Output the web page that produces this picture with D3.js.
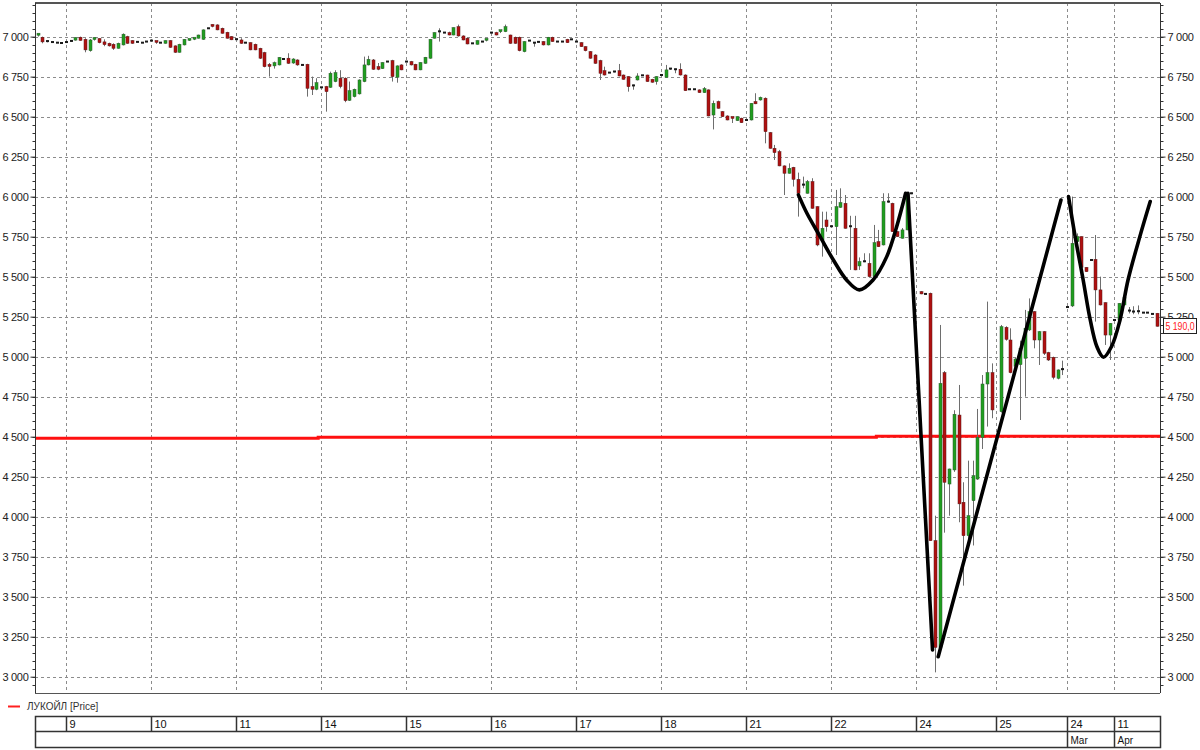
<!DOCTYPE html>
<html><head><meta charset="utf-8">
<script src="https://cdn.jsdelivr.net/npm/d3@7"></script>
<style>
body{margin:0;background:#fff}
text{font-family:"Liberation Sans Narrow","Liberation Sans",Arial,sans-serif}
</style>
</head><body>
<svg id="c" width="1200" height="750"></svg>
<script>
// ---- DATA (one candle per slot, null = empty slot) ----
const open = [
7003,6996,6972,6966,6962,6960,6964,6969,6978,6996,
6983,6912,6979,6988,6967,6958,6952,6927,6948,7000,
6975,6967,6962,6969,6975,6970,6962,6958,6975,6942,
6902,6948,6975,6980,6990,6983,7052,7070,7073,7052,
7027,7000,6983,6979,6962,6962,6952,6927,6900,6820,
6817,6823,6860,6865,6835,6854,6823,6827,6688,6671,
6683,6688,6683,6719,6740,6740,6602,6625,6642,6719,
6823,6854,6813,6800,6844,6850,6746,6823,6844,6844,
6827,6792,6833,6865,6990,7033,7025,7025,7010,7062,
7004,6990,6958,6952,6969,6975,7025,7025,7025,7031,
7010,6996,6996,6906,6975,6962,6967,6969,6948,6996,
6969,6969,6983,6983,6969,6962,6937,6906,6885,6850,
6787,6775,6782,6787,6760,6750,6695,6729,6758,6760,
6733,6719,6760,6746,6800,6796,6796,6760,6671,6671,
6667,6650,6667,6510,6594,6531,6504,6495,6475,6490,
6479,6479,6594,6604,6615,6400,6302,6281,6192,6146,
6183,6108,6075,6021,6094,5937,5729,5854,5815,5812,
5933,5958,5815,5802,5567,5594,5583,5500,5719,5698,
5969,5958,5781,5740,5792,6021,null,5406,5392,5396,
3850,3183,4900,4204,4292,4635,4090,3881,4100,4235,
4496,4829,4900,null,4656,5183,5104,4940,4950,4990,
5167,5281,5104,5156,5025,4996,4865,4920,5310,5317,
5719,5750,5558,5604,5608,5417,5337,5135,5229,5229,
5323,5288,5282,5284,5275,5275,5267,5271];
const high = [
7018,7000,6976,6967,6963,6961,6967,6975,6996,7000,
6990,6985,6996,6990,6983,6962,6958,6962,7020,7005,
6978,6969,6964,6971,6977,6972,6964,6977,6978,6945,
6955,6985,6985,6992,7012,7045,7054,7077,7077,7056,
7030,7003,6986,6990,6964,6965,6956,6930,6905,6835,
6844,6872,6862,6896,6865,6858,6825,6830,6750,6740,
6685,6692,6781,6790,6790,6745,6719,6675,6733,6875,
6880,6860,6835,6840,6846,6855,6820,6827,6846,6848,
6830,6840,6873,6985,7027,7052,7027,7031,7058,7075,
7008,6993,6960,6977,6971,6985,7027,7030,7040,7075,
7012,7000,7000,6972,6977,6965,6969,6972,6998,6999,
6971,6971,6986,6985,6971,6965,6940,6910,6890,6855,
6812,6777,6785,6829,6763,6753,6700,6771,6760,6762,
6736,6753,6762,6823,6803,6800,6833,6764,6673,6673,
6670,6685,6670,6600,6600,6535,6508,6498,6502,6493,
6481,6585,6646,6625,6620,6404,6323,6292,6195,6208,
6186,6150,6125,6104,6115,5940,5906,5906,5817,6042,
6052,6010,5880,5880,5620,5646,5646,5823,5792,6021,
6021,5962,5785,5804,6021,6025,null,5410,5394,5400,
4006,5198,4910,4300,4665,4823,4215,4350,4350,4673,
4885,5344,4958,null,5198,5190,5177,4995,5100,5292,
5364,5285,5160,5160,5030,5000,4920,4975,5312,6000,
5770,5752,5560,5606,5760,5500,5340,5210,5231,5335,
5385,5310,5315,5320,5277,5277,5269,5273];
const low = [
7000,6958,6964,6963,6960,6958,6963,6968,6975,6974,
6902,6906,6975,6958,6940,6938,6917,6925,6945,6955,
6955,6965,6960,6967,6973,6955,6960,6956,6930,6898,
6900,6945,6973,6978,6988,6980,7050,7058,7040,7019,
6988,6978,6980,6955,6960,6915,6915,6860,6808,6750,
6800,6820,6858,6830,6830,6818,6821,6625,6635,6665,
6681,6531,6680,6715,6677,6590,6598,6620,6638,6715,
6820,6792,6790,6798,6842,6719,6712,6790,6842,6820,
6790,6790,6830,6862,6988,6969,7023,7008,7008,7000,
6977,6952,6956,6950,6967,6970,7023,7008,7022,7028,
6955,6955,6908,6902,6973,6937,6965,6945,6945,6967,
6967,6967,6960,6981,6967,6935,6908,6862,6830,6729,
6757,6773,6776,6752,6731,6656,6668,6726,6756,6717,
6712,6700,6758,6743,6792,6771,6757,6660,6669,6669,
6648,6648,6502,6420,6550,6498,6477,6460,6473,6460,
6477,6476,6578,6600,6333,6300,6229,6190,6010,6144,
6063,5875,6052,6019,5925,5690,5625,5781,5813,5635,
5930,5800,5542,5540,5542,5590,5498,5498,5685,5695,
5962,5779,5748,5738,5790,6015,null,5390,5390,3850,
3027,3150,3900,4006,4280,3965,3569,3830,3820,4230,
4423,4563,4615,null,4650,5100,4896,4900,4604,4750,
5160,5052,4948,5010,4973,4858,4858,4885,5305,5310,
5715,5555,5529,5602,5219,5320,5073,4979,5227,5227,
5320,5270,5265,5265,5273,5273,5265,5188];
const close = [
7015,6967,6967,6964,6961,6959,6966,6973,6994,6976,
6917,6979,6988,6962,6950,6942,6927,6958,7015,6958,
6958,6966,6961,6968,6974,6958,6961,6975,6933,6902,
6952,6983,6983,6990,7010,7042,7051,7062,7042,7021,
6990,6980,6984,6958,6961,6917,6917,6865,6812,6812,
6837,6870,6859,6833,6860,6823,6822,6677,6671,6712,
6682,6656,6771,6775,6688,6600,6662,6671,6729,6823,
6858,6796,6796,6838,6843,6750,6817,6792,6843,6823,
6792,6838,6871,6983,7025,7031,7024,7010,7056,7004,
6979,6954,6957,6975,6968,6983,7024,7010,7037,7062,
6958,6958,6912,6969,6974,6960,6966,6948,6996,6969,
6968,6968,6962,6982,6968,6937,6912,6865,6833,6771,
6760,6774,6778,6754,6733,6687,6690,6754,6757,6719,
6715,6750,6759,6792,6795,6794,6760,6662,6670,6670,
6650,6675,6504,6583,6552,6500,6479,6485,6500,6462,
6478,6583,6580,6620,6406,6302,6275,6192,6146,6177,
6108,6021,6070,6094,5927,5698,5802,5812,5814,5937,
5963,5802,5812,5542,5594,5596,5500,5712,5687,5969,
5965,5781,5750,5792,6010,6018,null,5392,5391,3850,
3183,4833,4215,4298,4640,4080,3881,4006,4256,4496,
4829,4900,4667,null,5187,5108,4900,4985,5050,5177,
5281,5104,5156,5021,4979,4871,4917,4922,5308,5708,
5750,5558,5531,5603,5417,5323,5135,5208,5228,5333,
5371,5286,5280,5282,5274,5274,5266,5190];

// date axis
const dayLabels   = ["9","10","11","14","15","16","17","18","21","22","24","25","24","11"];
const dayIndex    = [6,24,42,60,78,96,114,132,150,168,186,203,218,228];
const monthLabels = ["","","","","","","","","","","","","Mar","Apr"];

// price axis labels
const priceTicks = [3000,3250,3500,3750,4000,4250,4500,4750,5000,5250,5500,5750,6000,6250,6500,6750,7000];

// "ЛУКОЙЛ [Price]" level line (step)
const levelIdx   = [-0.57, 59.4, 177.6, 237.67];
const levelPrice = [4490, 4497, 4503, 4503];

// hand-drawn annotations (slot index, price)
const cup1  = [[161.1,6011],[162.9,5896],[165.7,5750],[168.5,5604],[171.3,5479],[174.0,5417],[176.9,5479],[179.8,5625],[181.9,5812],[183.8,6021]];
const drop  = [[184.3,6021],[189.5,3167]];
const rise  = [[190.7,3125],[216.7,5979]];
const cup2  = [[218.3,6000],[219.7,5750],[221.4,5479],[222.9,5229],[224.3,5063],[225.7,4996],[227.4,5063],[229.2,5229],[230.9,5479],[233.4,5750],[235.6,5969]];

// ---- CHART ----
const L = 35, R = 1160, T = 3, B = 693;
const svg = d3.select("#c");
const x = d3.scaleLinear().domain([-0.57, 237.67]).range([L, R]);
const y = d3.scaleLinear().domain([2898, 7210]).range([B, T]);
const loc = d3.formatLocale({decimal:",", thousands:" ", grouping:[3], currency:["",""]});
const fmt = loc.format(",");
const fmt1 = loc.format(",.1f");

// grid
const g = svg.append("g");
g.selectAll(".hg").data(priceTicks).enter().append("line")
  .attr("x1", L).attr("x2", R).attr("y1", d => Math.round(y(d))+0.5).attr("y2", d => Math.round(y(d))+0.5)
  .attr("stroke", "#8c8c8c").attr("stroke-dasharray", "3,3");
g.selectAll(".vg").data(dayIndex).enter().append("line")
  .attr("y1", T).attr("y2", B).attr("x1", d => Math.round(x(d))+0.5).attr("x2", d => Math.round(x(d))+0.5)
  .attr("stroke", "#8c8c8c").attr("stroke-dasharray", "3,3");

// price level line
const lvl = levelIdx.map((d,i) => [d, levelPrice[i]]);
svg.append("path").datum(lvl)
  .attr("d", d3.line().x(d => x(d[0])).y(d => y(d[1])).curve(d3.curveStepAfter))
  .attr("fill", "none").attr("stroke", "#ff1010").attr("stroke-width", 3);

// candles
const candles = open.map((o,i) => ({i, o, h: high[i], l: low[i], c: close[i]})).filter(d => d.o != null);
const cg = svg.append("g");
cg.selectAll(".w").data(candles).enter().append("line")
  .attr("x1", d => Math.round(x(d.i))+0.5).attr("x2", d => Math.round(x(d.i))+0.5)
  .attr("y1", d => y(d.h)).attr("y2", d => y(d.l))
  .attr("stroke", "#6e6e6e").attr("stroke-width", 1);
cg.selectAll(".b").data(candles).enter().append("rect")
  .attr("x", d => Math.round(x(d.i)) - 1)
  .attr("width", 3)
  .attr("y", d => Math.min(y(d.o), y(d.c)) - (Math.abs(y(d.o)-y(d.c)) < 2 ? 1 : 0))
  .attr("height", d => Math.max(2, Math.abs(y(d.o) - y(d.c))))
  .attr("fill", d => Math.abs(d.c - d.o) <= 5 ? "#1a1a1a" : (d.c > d.o ? "#1f9e1f" : "#b01010"))
  .attr("stroke", d => Math.abs(d.c - d.o) <= 5 ? "none" : (d.c > d.o ? "#2c5a2c" : "#5a1a1a"))
  .attr("stroke-width", 0.5);

// annotations
const ann = svg.append("g").attr("fill", "none").attr("stroke", "#000").attr("stroke-width", 3.6).attr("stroke-linecap", "round").attr("stroke-linejoin", "round");
const straight = d3.line().x(d => x(d[0])).y(d => y(d[1]));
const smooth = d3.line().x(d => x(d[0])).y(d => y(d[1])).curve(d3.curveCatmullRom);
ann.append("path").attr("d", smooth(cup1));
ann.append("path").attr("d", straight(drop));
ann.append("path").attr("d", straight(rise));
ann.append("path").attr("d", smooth(cup2));

// frame
svg.append("line").attr("x1", L).attr("x2", R).attr("y1", T).attr("y2", T).attr("stroke", "#555").attr("stroke-width", 2);
svg.append("line").attr("x1", L).attr("x2", R).attr("y1", B+0.5).attr("y2", B+0.5).attr("stroke", "#555");

// axes
const minor = d3.range(2950, 7201, 50);
function yAxis(side) {
  const ax = (side === "left" ? d3.axisLeft(y) : d3.axisRight(y))
    .tickValues(priceTicks).tickFormat(fmt).tickSize(5).tickPadding(2);
  const a = svg.append("g").attr("transform", `translate(${side === "left" ? L + 0.5 : R + 0.5},0)`).call(ax);
  a.select(".domain").attr("d", `M0,${T}V${B}`).attr("stroke", "#333");
  a.selectAll(".tick line").attr("stroke", "#333");
  a.selectAll(".tick text").attr("font-size", 11).attr("fill", "#222").attr("letter-spacing", -0.3);
  a.selectAll(".mn").data(minor).enter().append("line")
    .attr("x1", 0).attr("x2", side === "left" ? -3 : 3)
    .attr("y1", d => Math.round(y(d))+0.5).attr("y2", d => Math.round(y(d))+0.5).attr("stroke", "#333");
}
yAxis("left"); yAxis("right");

// last price label
const last = close[close.length - 1];
const ly = Math.round(y(last));
svg.append("rect").attr("x", 1163.5).attr("y", ly - 7.5).attr("width", 33).attr("height", 15)
  .attr("fill", "#fff").attr("stroke", "#222");
svg.append("text").attr("x", 1165.5).attr("y", ly + 4).attr("font-size", 11).attr("fill", "#ff2020")
  .attr("textLength", 29).attr("lengthAdjust", "spacingAndGlyphs").text(fmt1(last));

// legend
svg.append("line").attr("x1", 8).attr("x2", 20).attr("y1", 706.5).attr("y2", 706.5).attr("stroke", "#ff2020").attr("stroke-width", 2);
svg.append("text").attr("x", 27).attr("y", 710).attr("font-size", 10).attr("fill", "#333").text("ЛУКОЙЛ [Price]");

// date table
const tT = 716, tM = 731, tB = 747;
const tg = svg.append("g").attr("stroke", "#333");
tg.append("rect").attr("x", L + 0.5).attr("y", tT + 0.5).attr("width", R - L).attr("height", tB - tT).attr("fill", "none").attr("stroke-width", 1.5);
tg.append("line").attr("x1", L).attr("x2", R).attr("y1", tM + 0.5).attr("y2", tM + 0.5).attr("stroke-width", 1.5);
dayIndex.forEach((d, k) => {
  const xx = Math.round(x(d)) + 0.5;
  tg.append("line").attr("x1", xx).attr("x2", xx).attr("y1", tT).attr("y2", monthLabels[k] ? tB : tM).attr("stroke-width", 1.5);
  svg.append("text").attr("x", xx + 3).attr("y", tT + 12).attr("font-size", 11).attr("fill", "#111").text(dayLabels[k]);
  if (monthLabels[k]) svg.append("text").attr("x", xx + 3).attr("y", tM + 13).attr("font-size", 10).attr("fill", "#111").text(monthLabels[k]);
});
</script>
</body></html>
